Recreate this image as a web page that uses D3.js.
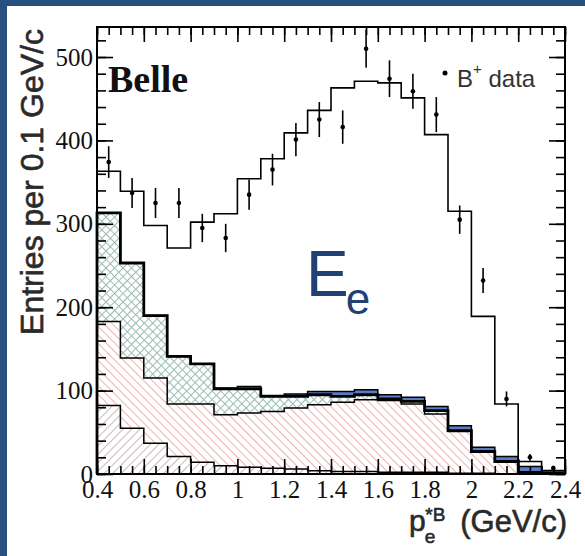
<!DOCTYPE html>
<html>
<head>
<meta charset="utf-8">
<script src="https://cdn.jsdelivr.net/npm/d3@7"></script>
<style>
html, body { margin: 0; padding: 0; background: #28507f; }
svg { display: block; }
</style>
</head>
<body>
<svg id="chart" width="585" height="556"></svg>
<script>
/*
 * Data (per 0.1 GeV/c bin)
 *****************************/
const binLow = [0.4, 0.5, 0.6, 0.7, 0.8, 0.9, 1.0, 1.1, 1.2, 1.3, 1.4, 1.5, 1.6, 1.7, 1.8, 1.9, 2.0, 2.1, 2.2, 2.3];
const binWidth = 0.1;

// stacked background components, bottom to top
const bkgGray  = [82, 55, 37, 21, 14, 10, 8, 7, 6, 4, 3, 3, 2, 2, 2, 1, 1, 0, 0, 0];
const bkgRed   = [101, 84, 78, 63, 70, 61, 65, 68, 73, 79, 83, 86, 86, 82, 70, 50, 25, 14, 1, 0];
const bkgGreen = [130, 114, 75, 57, 48, 31, 29, 18, 14, 12, 7, 6, 2, 3, 4, 1, 1, 1, 1, 1];
const bkgBlue  = [0, 0, 0, 0, 0, 1, 3, 1, 3, 4, 6, 6, 5, 5, 5, 6, 5, 6, 7, 1];

// signal + background total (open histogram)
const mcTotal = [363, 339, 298, 271, 302, 312, 354, 378, 409, 436, 463, 471, 469, 451, 407, 315, 189, 84, 15, 4];

// B+ data points and errors
const dataB   = [374, 337, 325, 325, 295, 283, 335, 365, 401, 425, 416, 510, 474, 459, 431, 305, 232, 90, 20, 7];
const dataErr = [19, 18, 18, 18, 17, 17, 18, 19, 20, 21, 20, 23, 22, 21, 21, 17, 15, 9, 4, 3];

const xTicks = [0.4, 0.6, 0.8, 1.0, 1.2, 1.4, 1.6, 1.8, 2.0, 2.2, 2.4];
const yTicks = [0, 100, 200, 300, 400, 500];

/*
 * Layout
 *****************************/
const svg = d3.select("#chart");
const mLeft = 97, mRight = 565, mTop = 27, mBottom = 474;

const x = d3.scaleLinear().domain([0.4, 2.4]).range([mLeft, mRight]);
const y = d3.scaleLinear().domain([0, 536]).range([mBottom, mTop]);

// white page on the blue slide
svg.append("rect").attr("x", 7).attr("y", 6).attr("width", 578).attr("height", 550).attr("fill", "#fff");

// hatch patterns
const defs = svg.append("defs");
function hatch(id, angle, color, gap, w) {
  const p = defs.append("pattern").attr("id", id)
    .attr("patternUnits", "userSpaceOnUse")
    .attr("width", gap).attr("height", gap)
    .attr("patternTransform", `rotate(${angle})`);
  p.append("line").attr("x1", 0).attr("y1", 0).attr("x2", 0).attr("y2", gap)
    .attr("stroke", color).attr("stroke-width", w);
}
hatch("hGray", 45, "#a48a8a", 6, 1.2);
hatch("hRed", -45, "#e47a7a", 6, 1.2);
const cross = defs.append("pattern").attr("id", "hGreen")
  .attr("patternUnits", "userSpaceOnUse").attr("width", 6).attr("height", 6)
  .attr("patternTransform", "rotate(45)");
cross.append("path").attr("d", "M0,0.5H6M0.5,0V6").attr("stroke", "#9dbcb5").attr("stroke-width", 1.1);

// stacking
const layers = [bkgGray, bkgRed, bkgGreen, bkgBlue];
const fills = ["url(#hGray)", "url(#hRed)", "url(#hGreen)", "#5a7cc4"];
const cum = [];
layers.forEach((arr, k) => {
  cum.push(arr.map((v, i) => {
    const lo = k ? cum[k - 1][i].hi : 0;
    return { lo, hi: lo + v };
  }));
});

// step points for a histogram
function steps(vals) {
  const pts = [];
  vals.forEach((v, i) => {
    pts.push([binLow[i], v]);
    pts.push([binLow[i] + binWidth, v]);
  });
  return pts;
}

const bandArea = d3.area()
  .x(d => x(d[0]))
  .y0(d => y(d[1]))
  .y1(d => y(d[2]));

const stepLine = d3.line().x(d => x(d[0])).y(d => y(d[1]));

const plot = svg.append("g");

cum.forEach((c, k) => {
  const pts = [];
  c.forEach((d, i) => {
    pts.push([binLow[i], d.lo, d.hi]);
    pts.push([binLow[i] + binWidth, d.lo, d.hi]);
  });
  plot.append("path").attr("d", bandArea(pts)).attr("fill", fills[k]).attr("stroke", "none");
});

// outlines of the stacked components
const lineW = [1.5, 1.5, 2.8, 1.5];
cum.forEach((c, k) => {
  const pts = steps(c.map(d => d.hi));
  pts.unshift([0.4, 0]);
  plot.append("path").attr("d", stepLine(pts))
    .attr("fill", "none").attr("stroke", "#000").attr("stroke-width", lineW[k]);
});

// total MC
const totPts = steps(mcTotal);
totPts.unshift([0.4, 0]);
plot.append("path").attr("d", stepLine(totPts))
  .attr("fill", "none").attr("stroke", "#000").attr("stroke-width", 1.6);

// data points
const pts = plot.append("g").selectAll("g").data(dataB).join("g");
pts.append("line")
  .attr("x1", (d, i) => x(binLow[i] + binWidth / 2))
  .attr("x2", (d, i) => x(binLow[i] + binWidth / 2))
  .attr("y1", (d, i) => y(d - dataErr[i]))
  .attr("y2", (d, i) => y(d + dataErr[i]))
  .attr("stroke", "#000").attr("stroke-width", 1.6);
pts.append("circle")
  .attr("cx", (d, i) => x(binLow[i] + binWidth / 2))
  .attr("cy", d => y(d))
  .attr("r", 2.3).attr("fill", "#000");

/*
 * Axes
 *****************************/
const xMinor = d3.range(0.4, 2.401, 0.05);
const yMinor = d3.range(0, 536, 20);
const fmt = d3.format("~g");

function styleAxis(g) {
  g.select(".domain").remove();
  g.selectAll("line").attr("stroke", "#000").attr("stroke-width", 1.6);
  g.selectAll("text").attr("font-family", "'Liberation Serif', 'Times New Roman', serif")
    .attr("font-size", 25).attr("fill", "#111");
}

svg.append("g").attr("transform", `translate(0,${mBottom})`)
  .call(d3.axisBottom(x).tickValues(xMinor).tickSize(-8).tickFormat("")).call(styleAxis);
svg.append("g").attr("transform", `translate(0,${mBottom})`)
  .call(d3.axisBottom(x).tickValues(xTicks).tickSize(-15).tickPadding(6).tickFormat(fmt)).call(styleAxis);
svg.append("g").attr("transform", `translate(0,${mTop})`)
  .call(d3.axisTop(x).tickValues(xMinor).tickSize(-8).tickFormat("")).call(styleAxis);
svg.append("g").attr("transform", `translate(0,${mTop})`)
  .call(d3.axisTop(x).tickValues(xTicks).tickSize(-15).tickFormat("")).call(styleAxis);

svg.append("g").attr("transform", `translate(${mLeft},0)`)
  .call(d3.axisLeft(y).tickValues(yMinor).tickSize(-9).tickFormat("")).call(styleAxis);
svg.append("g").attr("transform", `translate(${mLeft},0)`)
  .call(d3.axisLeft(y).tickValues(yTicks).tickSize(-16).tickPadding(4).tickFormat(fmt)).call(styleAxis);
svg.append("g").attr("transform", `translate(${mRight},0)`)
  .call(d3.axisRight(y).tickValues(yMinor).tickSize(-9).tickFormat("")).call(styleAxis);
svg.append("g").attr("transform", `translate(${mRight},0)`)
  .call(d3.axisRight(y).tickValues(yTicks).tickSize(-16).tickFormat("")).call(styleAxis);

// frame
svg.append("rect").attr("x", mLeft).attr("y", mTop).attr("width", mRight - mLeft).attr("height", mBottom - mTop)
  .attr("fill", "none").attr("stroke", "#000").attr("stroke-width", 2);

/*
 * Texts
 *****************************/
const sans = "'Liberation Sans', Arial, sans-serif";

svg.append("text")
  .attr("transform", "translate(43,182) rotate(-90)")
  .attr("text-anchor", "middle")
  .attr("font-family", sans)
  .attr("font-size", 32).attr("fill", "#2a2a2a")
  .attr("stroke", "#2a2a2a").attr("stroke-width", 0.6)
  .text("Entries per 0.1 GeV/c");

svg.append("text")
  .attr("x", 108).attr("y", 92)
  .attr("font-family", "'Liberation Serif', 'Times New Roman', serif")
  .attr("font-weight", "bold").attr("font-size", 38).attr("fill", "#111")
  .text("Belle");

// legend
svg.append("circle").attr("cx", 445).attr("cy", 73).attr("r", 2.5).attr("fill", "#000");
const leg = svg.append("text").attr("x", 457).attr("y", 87)
  .attr("font-family", sans).attr("font-size", 24).attr("fill", "#333");
leg.append("tspan").text("B");
leg.append("tspan").attr("dy", -13).attr("font-size", 15).text("+");
leg.append("tspan").attr("dy", 13).text(" data");

// E_e
const ee = svg.append("text").attr("x", 306).attr("y", 296)
  .attr("font-family", sans).attr("fill", "#1f4173");
ee.append("tspan").attr("font-size", 64).text("E");
ee.append("tspan").attr("font-size", 44).attr("dy", 18).attr("dx", -3).text("e");

// x title
const xt = svg.append("text").attr("x", 409).attr("y", 531)
  .attr("font-family", sans).attr("font-size", 30).attr("fill", "#2a2a2a")
  .attr("stroke", "#2a2a2a").attr("stroke-width", 0.6);
xt.append("tspan").text("p");
xt.append("tspan").attr("font-size", 19).attr("dy", 12).attr("dx", -1).text("e");
xt.append("tspan").attr("font-size", 19).attr("dy", -22).attr("dx", -10).text("*B");
svg.append("text").attr("x", 567).attr("y", 532).attr("text-anchor", "end")
  .attr("font-family", sans).attr("font-size", 31).attr("fill", "#2a2a2a")
  .attr("stroke", "#2a2a2a").attr("stroke-width", 0.6)
  .text("(GeV/c)");
</script>
</body>
</html>
